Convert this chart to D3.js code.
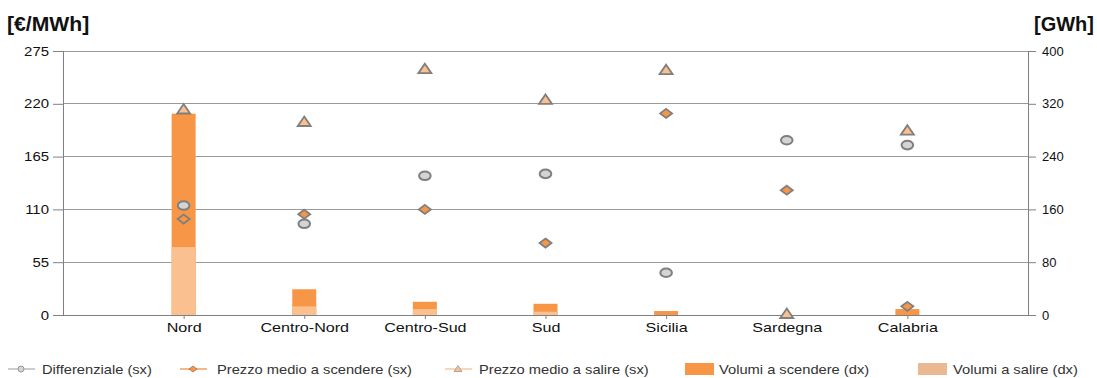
<!DOCTYPE html>
<html><head><meta charset="utf-8">
<script src="https://cdn.jsdelivr.net/npm/d3@7"></script>
<style>
body{margin:0;background:#fff;}
text{font-family:"Liberation Sans",Arial,sans-serif;}
</style></head>
<body><svg id="c" width="1097" height="378"></svg>
<script>
const categories = ["Nord","Centro-Nord","Centro-Sud","Sud","Sicilia","Sardegna","Calabria"];
const differenziale = [114, 95, 145, 147, 44, 182, 177];
const prezzoScendere = [100, 105, 110, 75, 210, 130, 9];
const prezzoSalire = [213, 200, 255, 223, 254, 0, 191];
const volumiScendere = [305, 39, 20, 17, 6, 0, 9];
const volumiSalire = [103, 13, 9, 5, 0, 0, 0];
const leftTicks = [0, 55, 110, 165, 220, 275];
const rightTicks = [0, 80, 160, 240, 320, 400];

const svg = d3.select("#c");
const L = 63, R = 1028, T = 51, B = 315;
const x = d3.scalePoint().domain(categories).range([L, R]).padding(1);
const yL = d3.scaleLinear().domain([0, 275]).range([B, T]);
const yR = d3.scaleLinear().domain([0, 400]).range([B, T]);

const cDark = "#F79646", cLight = "#FAC090", cGray = "#D4D4D4", cStroke = "#7F7F7F";

// gridlines
svg.append("g").selectAll("line").data(leftTicks).join("line")
  .attr("x1", L).attr("x2", R).attr("y1", d => yL(d)).attr("y2", d => yL(d))
  .attr("stroke", "#9a9a9a").attr("stroke-width", 1).attr("shape-rendering","crispEdges");

// bars
const bw = 24;
svg.append("g").selectAll("rect").data(categories).join("rect")
  .attr("x", d => x(d) - bw/2).attr("width", bw)
  .attr("y", (d,i) => yR(volumiScendere[i])).attr("height", (d,i) => B - yR(volumiScendere[i]))
  .attr("fill", cDark);
svg.append("g").selectAll("rect").data(categories).join("rect")
  .attr("x", d => x(d) - bw/2).attr("width", bw)
  .attr("y", (d,i) => yR(volumiSalire[i])).attr("height", (d,i) => B - yR(volumiSalire[i]))
  .attr("fill", cLight);

// axes
const axL = d3.axisLeft(yL).tickValues(leftTicks).tickSize(10).tickPadding(3);
const gL = svg.append("g").attr("transform", `translate(${L},0)`).call(axL);
const axR = d3.axisRight(yR).tickValues(rightTicks).tickSize(8).tickPadding(6);
const gR = svg.append("g").attr("transform", `translate(${R},0)`).call(axR);
const axB = d3.axisBottom(x).tickSize(4).tickPadding(4);
const gB = svg.append("g").attr("transform", `translate(0,${B})`).call(axB);
[gL, gR, gB].forEach(g => {
  g.select(".domain").attr("stroke", "#808080");
  g.selectAll(".tick line").attr("stroke", "#808080");
  g.selectAll("text").attr("font-size", 13).attr("fill", "#111")
    .attr("font-family", '"Liberation Sans",Arial,sans-serif');
});
gL.selectAll("text").attr("x", 0).attr("transform", "translate(-14,0) scale(1.15,1)");
gB.selectAll("text").attr("font-size", 12.8).attr("transform", "scale(1.26,1)");
gB.select(".domain").remove();
svg.append("line").attr("x1", L).attr("x2", R).attr("y1", B).attr("y2", B)
  .attr("stroke", "#808080").attr("shape-rendering","crispEdges");

// markers
const mk = svg.append("g");
mk.selectAll("ellipse").data(categories).join("ellipse")
  .attr("cx", d => x(d)).attr("cy", (d,i) => yL(differenziale[i]))
  .attr("rx", 5.8).attr("ry", 4.3)
  .attr("fill", cGray).attr("stroke", cStroke).attr("stroke-width", 2);
const diamond = "M0,-4.5L6,0L0,4.5L-6,0Z";
mk.selectAll("path.dia").data(categories).join("path").attr("class","dia")
  .attr("d", diamond)
  .attr("transform", (d,i) => `translate(${x(d)},${yL(prezzoScendere[i])})`)
  .attr("fill", cDark).attr("stroke", cStroke).attr("stroke-width", 1.8);
const tri = "M0,-5.5L6.5,4L-6.5,4Z";
mk.selectAll("path.tri").data(categories).join("path").attr("class","tri")
  .attr("d", tri)
  .attr("transform", (d,i) => `translate(${x(d)},${yL(prezzoSalire[i])-1})`)
  .attr("fill", cLight).attr("stroke", cStroke).attr("stroke-width", 1.8);

// axis titles
svg.append("text").attr("x", 7).attr("y", 31).attr("font-size", 20).attr("font-weight", "bold")
  .attr("fill", "#111").attr("transform", "translate(7,31) scale(1.06,1) translate(-7,-31)").text("[€/MWh]");
svg.append("text").attr("x", 1094).attr("y", 31).attr("font-size", 20).attr("font-weight", "bold")
  .attr("text-anchor", "end").attr("fill", "#111").text("[GWh]");

// legend
const lg = svg.append("g").attr("font-size", 13).attr("fill", "#333");
const ly = 369;
const legendItems = [
  {label:"Differenziale (sx)", type:"circle", x1:8, tx:42},
  {label:"Prezzo medio a scendere (sx)", type:"diamond", x1:180, tx:217},
  {label:"Prezzo medio a salire (sx)", type:"triangle", x1:445, tx:479},
  {label:"Volumi a scendere (dx)", type:"box", x1:685, tx:719, color:cDark},
  {label:"Volumi a salire (dx)", type:"box", x1:918, tx:953, color:"#EBB991"}
];
legendItems.forEach(it => {
  if (it.type === "box") {
    lg.append("rect").attr("x", it.x1).attr("y", ly-6).attr("width", 29).attr("height", 12).attr("fill", it.color);
  } else {
    const cx = it.x1 + 13;
    const lc = it.type === "circle" ? "#BDBDBD" : it.type === "diamond" ? "#F0A060" : "#F5C8A8";
    lg.append("line").attr("x1", it.x1).attr("x2", it.x1+27).attr("y1", ly).attr("y2", ly)
      .attr("stroke", lc).attr("stroke-width", 1.5);
    if (it.type === "circle") lg.append("circle").attr("cx", cx).attr("cy", ly).attr("r", 3)
      .attr("fill", "#D4D4D4").attr("stroke", "#999").attr("stroke-width", 1);
    if (it.type === "diamond") lg.append("path").attr("d", "M0,-3L4,0L0,3L-4,0Z")
      .attr("transform", `translate(${cx},${ly})`).attr("fill", cDark).attr("stroke", "#A07050").attr("stroke-width", 0.8);
    if (it.type === "triangle") lg.append("path").attr("d", "M0,-3.5L4,2.5L-4,2.5Z")
      .attr("transform", `translate(${cx},${ly})`).attr("fill", cLight).attr("stroke", "#999").attr("stroke-width", 0.8);
  }
  lg.append("text").attr("x", 0).attr("y", 0).attr("dy", "0.35em").attr("fill", "#333")
    .attr("transform", `translate(${it.tx},${ly}) scale(1.13,1)`).text(it.label);
});
</script></body></html>
